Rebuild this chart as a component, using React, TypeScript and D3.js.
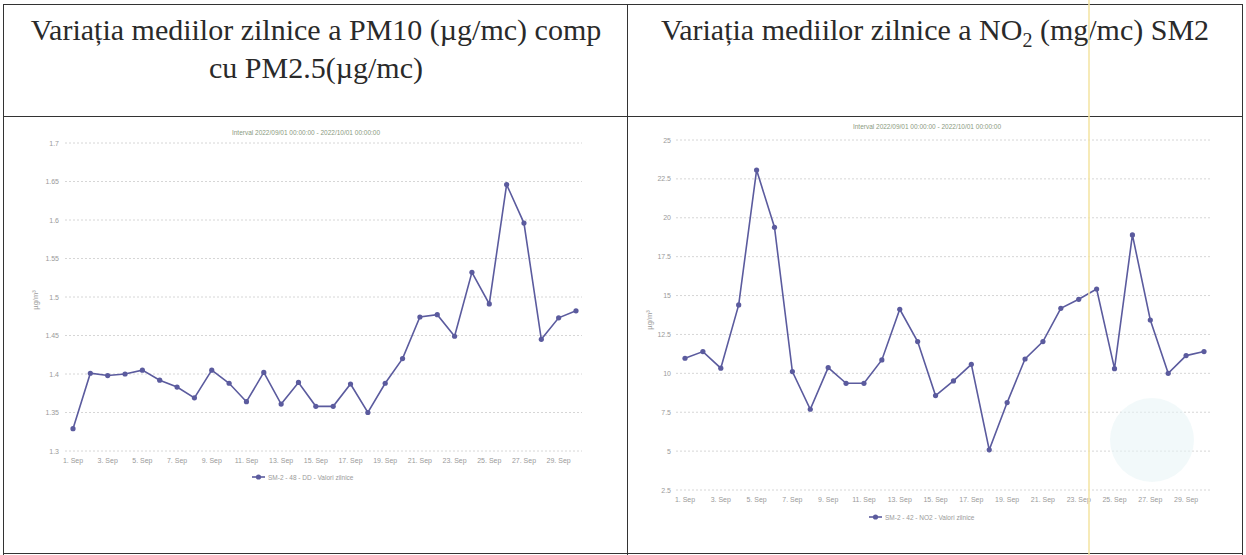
import React from "react";
import * as d3 from "d3";

const days = [1,2,3,4,5,6,7,8,9,10,11,12,13,14,15,16,17,18,19,20,21,22,23,24,25,26,27,28,29,30];
const tickDays = [1,3,5,7,9,11,13,15,17,19,21,23,25,27,29];
const pmValues = [1.329,1.401,1.398,1.400,1.405,1.392,1.383,1.369,1.405,1.388,1.364,1.402,1.361,1.389,1.358,1.358,1.387,1.350,1.388,1.420,1.474,1.477,1.449,1.532,1.491,1.646,1.596,1.445,1.473,1.482];
const no2Values = [10.97,11.4,10.33,14.4,23.07,19.39,10.11,7.69,10.37,9.36,9.36,10.86,14.12,12.04,8.57,9.51,10.58,5.08,8.12,10.92,12.04,14.18,14.76,15.42,10.3,18.9,13.43,10.0,11.14,11.4];
const pmTicks = [1.3,1.35,1.4,1.45,1.5,1.55,1.6,1.65,1.7];
const no2Ticks = [2.5,5,7.5,10,12.5,15,17.5,20,22.5,25];
const intervalText = "Interval 2022/09/01 00:00:00 - 2022/10/01 00:00:00";
const pmLegend = "SM-2 - 48 - DD - Valori zilnice";
const no2Legend = "SM-2 - 42 - NO2 - Valori zilnice";

const LINE = "#5b5b9e";
const TXT = "#9a9a9a";

function Chart(props: any) {
  const { values, ticks, xr, yd, yr, gx0, gx1, labEnd, xLabY, title, titleX, titleY, legend, legX, legY, unitX, unitY, fmt } = props;
  const x = d3.scaleLinear().domain([1, 30]).range(xr);
  const y = d3.scaleLinear().domain(yd).range(yr);
  const line = d3.line<number>().x((_, i) => x(days[i])).y((d) => y(d));
  return (
    <g fontFamily="Liberation Sans, Arial, sans-serif">
      <text x={titleX} y={titleY} fontSize={6.5} fill="#8a9a80" textAnchor="middle">{title}</text>
      {ticks.map((t: number) => (
        <g key={t}>
          <line x1={gx0} x2={gx1} y1={y(t)} y2={y(t)} stroke="#d6d6d6" strokeWidth={1} strokeDasharray="2,2" />
          <text x={labEnd} y={y(t) + 2.5} fontSize={7} fill={TXT} textAnchor="end">{fmt(t)}</text>
        </g>
      ))}
      {tickDays.map((d) => (
        <text key={d} x={x(d)} y={xLabY} fontSize={7} fill={TXT} textAnchor="middle">{`${d}. Sep`}</text>
      ))}
      <text transform={`translate(${unitX},${unitY}) rotate(-90)`} fontSize={7.5} fill={TXT} textAnchor="middle">µg/m³</text>
      <path d={line(values) || ""} fill="none" stroke={LINE} strokeWidth={1.6} />
      {values.map((v: number, i: number) => (
        <circle key={i} cx={x(days[i])} cy={y(v)} r={2.6} fill={LINE} />
      ))}
      <line x1={legX} x2={legX + 13} y1={legY} y2={legY} stroke={LINE} strokeWidth={1.6} />
      <circle cx={legX + 6.5} cy={legY} r={2.6} fill={LINE} />
      <text x={legX + 16} y={legY + 2.5} fontSize={6.5} fill={TXT}>{legend}</text>
    </g>
  );
}

export default function App() {
  return (
    <svg width={1246} height={555} style={{ position: "absolute", left: 0, top: 0, background: "#fff" }}>
      <rect x={0} y={0} width={1246} height={555} fill="#fff" />
      <g stroke="#333" strokeWidth={1} fill="none">
        <line x1={3} x2={1243} y1={4.5} y2={4.5} />
        <line x1={3} x2={1243} y1={116.5} y2={116.5} />
        <line x1={3.5} x2={3.5} y1={4} y2={555} />
        <line x1={627.5} x2={627.5} y1={4} y2={555} />
        <line x1={1242.5} x2={1242.5} y1={4} y2={555} />
        <line x1={3} x2={1243} y1={553.5} y2={553.5} />
      </g>
      <g fontFamily="Liberation Serif, Times New Roman, serif" fontSize={30} fill="#2a2a2a" textAnchor="middle">
        <text x={316} y={40}>Variația mediilor zilnice a PM10 (µg/mc) comp</text>
        <text x={316} y={78}>cu PM2.5(µg/mc)</text>
        <text x={935} y={40}>
          Variația mediilor zilnice a NO<tspan fontSize={20} dy={7}>2</tspan><tspan dy={-7}> (mg/mc) SM2</tspan>
        </text>
      </g>
      <Chart values={pmValues} ticks={pmTicks} xr={[73, 576]} yd={[1.3, 1.7]} yr={[451, 143]}
        gx0={65} gx1={582} labEnd={59} xLabY={463} title={intervalText} titleX={306} titleY={135}
        legend={pmLegend} legX={252} legY={477} unitX={38} unitY={300} fmt={(t: number) => String(t)} />
      <Chart values={no2Values} ticks={no2Ticks} xr={[685, 1204]} yd={[2.5, 25]} yr={[490, 140]}
        gx0={676} gx1={1210} labEnd={671} xLabY={502} title={intervalText} titleX={927} titleY={129}
        legend={no2Legend} legX={869} legY={517} unitX={652} unitY={320} fmt={(t: number) => String(t)} />
      <circle cx={1152} cy={440} r={42} fill="#e8f4f6" opacity={0.55} />
      <line x1={1089} x2={1089} y1={0} y2={555} stroke="#f3e3a0" strokeWidth={1.5} />
    </svg>
  );
}
